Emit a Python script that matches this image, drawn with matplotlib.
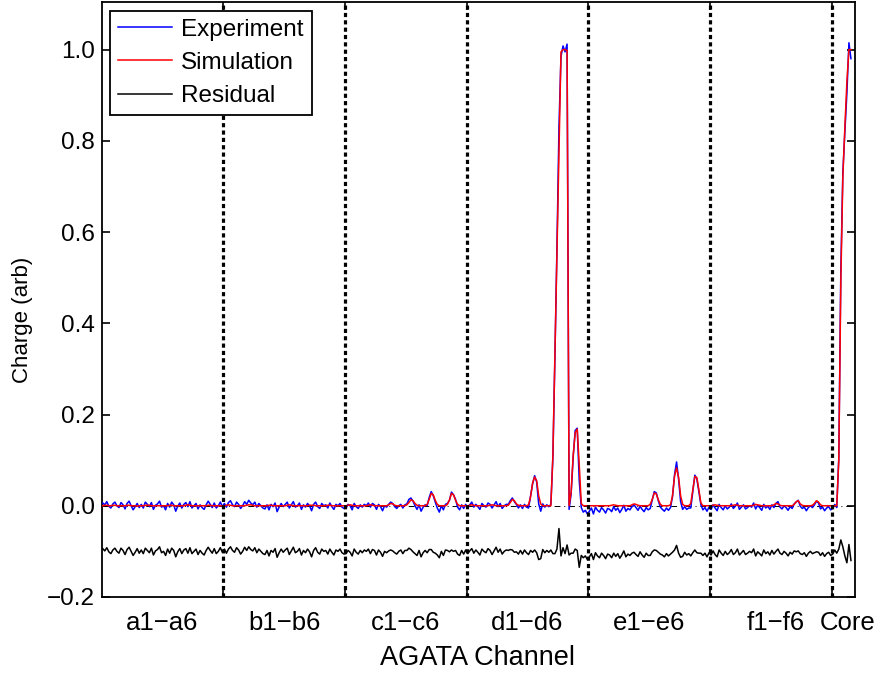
import numpy as np
import matplotlib
matplotlib.use("Agg")
import matplotlib.pyplot as plt

plt.rcParams['font.family'] = ['Liberation Sans', 'DejaVu Sans']

# AGATA "supertrace": segments a1..f6 (6 per sector) followed by the core,
# 10 samples per channel. Charges below are in units of 1e-3 (arb).
samples_per_channel = 10
group_labels = ["a1\u2212a6", "b1\u2212b6", "c1\u2212c6", "d1\u2212d6",
                "e1\u2212e6", "f1\u2212f6", "Core"]
group_label_pos = [3, 9, 15, 21, 27, 33.25, 36.8]
sector_dividers = [6, 12, 18, 24, 30, 36]
yticks = [-0.2, 0.0, 0.2, 0.4, 0.6, 0.8, 1.0]
residual_offset = -0.1

# Simulated pulse shapes
sim_a = [[0, 1, 1, 0, 0, 1, 1, 0, 0, 0],
         [0, 0, 1, 1, 0, 0, 0, -1, 0, 0],
         [0, 1, 1, 1, 0, 0, 0, 0, 0, 0],
         [0, 0, 0, 1, 1, 0, 0, 0, 0, 0],
         [0, 1, 2, 1, 0, 0, 0, 0, 0, 0],
         [0, 0, 1, 1, 0, 0, 0, 0, 0, 0]]
sim_b = [[0, 1, 2, 1, 0, 0, 0, 0, 0, 0],
         [0, 1, 2, 2, 1, 0, 0, 0, 0, 0],
         [0, 0, 1, 1, 0, 0, 0, 0, 0, 0],
         [0, 1, 2, 1, 0, 0, 0, 0, 0, 0],
         [0, 0, 1, 1, 1, 0, 0, 0, 0, 0],
         [0, 1, 1, 0, 0, 0, 0, 0, 0, 0]]
sim_c = [[0, 1, 2, 1, 0, 0, 0, 0, 0, 0],
         [0, 1, 2, 1, 0, 0, 0, 0, 0, 0],
         [0, 2, 5, 4, 1, 0, 0, 0, 0, 0],
         [2, 7, 13, 11, 5, 1, 0, 0, 0, 0],
         [3, 14, 27, 24, 12, 3, 0, 0, 0, 0],
         [3, 13, 27, 24, 12, 3, 0, 0, 0, 0]]
sim_d = [[0, 1, 2, 1, 0, 0, 0, 0, 0, 0],
         [0, 1, 2, 1, 0, 0, 0, 0, 0, 0],
         [1, 7, 14, 11, 4, 1, 0, 0, 0, 0],
         [2, 20, 50, 63, 55, 22, 4, 0, 0, 0],
         [0, 0, 110, 330, 560, 780, 995, 1000, 1000, 998],
         [0, 30, 110, 160, 168, 90, 5, 0, 0, 0]]
sim_e = [[0, 0, 0, 0, 0, 0, 0, 0, 0, 0],
         [0, 1, 2, 1, 0, 0, 0, 0, 0, 0],
         [0, 2, 4, 3, 1, 0, 0, 0, 0, 0],
         [3, 14, 28, 26, 13, 3, 0, 0, 0, 0],
         [2, 22, 65, 83, 62, 22, 3, 0, 0, 0],
         [5, 35, 64, 62, 35, 6, 0, 0, 0, 0]]
sim_f = [[0, 1, 2, 1, 0, 0, 0, 0, 0, 0],
         [0, 1, 2, 1, 0, 0, 0, 0, 0, 0],
         [0, 1, 3, 2, 1, 0, 0, 0, 0, 0],
         [0, 2, 5, 4, 1, 0, 0, 0, 0, 0],
         [0, 3, 9, 11, 4, 1, 0, 0, 0, 0],
         [1, 5, 11, 8, 2, 0, 0, 0, 0, 0]]
sim_core = [0, 0, 0, 100, 490, 720, 830, 930, 1000, 1000]

# Measured pulse shapes
exp_a = [[6, 2, 9, -1, -5, 4, 8, 0, -4, 7],
         [2, -7, 5, 10, 0, -9, -2, 5, -4, 3],
         [-5, 8, 3, -2, 7, -8, 1, 4, 10, -3],
         [0, -9, 5, -3, 8, 2, -12, -1, 6, -5],
         [3, 7, -2, 9, -5, 0, 5, -7, 2, -4],
         [-8, 2, 10, 3, -4, 6, -5, 0, 8, -2]]
exp_b = [[5, -3, 7, 11, 2, -2, 8, 3, -6, 0],
         [9, 3, 12, 6, 2, 8, -3, 5, 0, -5],
         [-7, 2, -9, 3, -2, 6, -13, -3, 5, -2],
         [3, 8, -5, 2, 9, -3, 0, 6, -8, 2],
         [-3, 5, 0, -11, 3, 8, -2, -6, 5, 0],
         [2, -5, 6, -2, -8, 3, 0, 5, -3, -6]]
exp_c = [[-5, 3, 0, -9, 5, -2, -6, 2, -3, 3],
         [0, 6, -3, 5, 2, -8, 3, -2, -11, 0],
         [-3, 3, 8, 5, -2, -6, 0, 3, -5, 2],
         [4, 14, 17, 10, 0, -8, 2, -12, -3, 2],
         [0, 18, 31, 22, 8, -5, -14, 0, -9, 3],
         [5, 12, 30, 24, 14, -3, -9, 2, -6, 3]]
exp_d = [[-5, 2, 8, -3, 3, -2, -8, 5, 0, -3],
         [6, 3, -5, 2, 9, -2, 5, -6, 0, 3],
         [3, 11, 17, 9, 3, -5, 2, -6, 3, -3],
         [-5, 22, 48, 66, 52, 4, -12, 4, -3, 2],
         [-2, 3, 105, 325, 565, 830, 985, 1008, 995, 1012],
         [-8, 26, 106, 165, 170, 55, -4, -14, -10, -18]]
exp_e = [[-12, -5, -18, -3, -10, -14, -4, -9, -16, -6],
         [-8, -13, -2, -10, -5, -15, -8, 1, -12, -6],
         [-9, -2, 2, -4, -10, -1, -8, -13, -4, -9],
         [-6, 13, 31, 28, 11, -3, -8, -12, -5, -10],
         [-4, 20, 68, 96, 58, 9, -8, -2, -8, -5],
         [-5, 32, 67, 59, 31, 2, -9, -4, -12, -3]]
exp_f = [[-8, 2, -5, -11, 3, -4, -9, 0, -7, -3],
         [4, -6, -1, 6, -8, -3, 2, -7, -4, 0],
         [-3, 6, -7, 1, -4, -10, 3, -5, -1, -8],
         [2, -4, 5, 9, -3, -7, 0, -4, -10, -2],
         [-6, 4, 8, 12, -1, -6, -3, -11, -4, 0],
         [-4, 2, 10, 6, -7, -3, -11, -5, -2, -9]]
exp_core = [-6, 3, -4, 105, 515, 730, 820, 905, 1015, 980]

# Stitch the channels together into one long trace
sim = np.array(sim_a + sim_b + sim_c + sim_d + sim_e + sim_f + [sim_core]).ravel() / 1000.
meas = np.array(exp_a + exp_b + exp_c + exp_d + exp_e + exp_f + [exp_core]).ravel() / 1000.
residual = meas - sim + residual_offset

# sample position in "channel" units
x = (np.arange(len(sim)) + 0.5) / samples_per_channel

fig = plt.figure(figsize=(8.83, 6.75), dpi=100)
ax = fig.add_axes([0.1152, 0.1156, 0.8531, 0.8819])

ax.plot(x, meas, color='blue', lw=1.1, label='Experiment', zorder=3)
ax.plot(x, sim, color='red', lw=1.1, label='Simulation', zorder=4)
ax.plot(x, residual, color='black', lw=1.1, label='Residual', zorder=4)

# zero line and sector separators
ax.axhline(0, color='black', lw=0.7, ls=(0, (6, 4, 1, 4)), zorder=2)
for d in sector_dividers:
    ax.axvline(d, color='black', lw=2.3, ls=(0, (1.3, 1.0)), zorder=5)

ax.set_xlim(0, 37.15)
ax.set_ylim(-0.2, 1.105)

ax.set_xticks(sector_dividers)
ax.set_xticklabels([])
ax.set_xticks(group_label_pos, minor=True)
ax.set_xticklabels(group_labels, minor=True)
ax.tick_params(axis='x', which='minor', length=0, pad=10, labelsize=18.5)

ax.set_yticks(yticks)
ax.set_yticklabels([("%.1f" % v).replace('-', '\u2212') for v in yticks])
ax.tick_params(which='major', direction='in', top=True, right=True,
               length=6, width=1.2, labelsize=17.5, pad=5)
for sp in ax.spines.values():
    sp.set_linewidth(1.3)

fig.text(0.541, 0.025, 'AGATA Channel', ha='center', va='center', fontsize=19.5)
fig.text(0.025, 0.526, 'Charge (arb)', ha='center', va='center',
         rotation=90, fontsize=16)

leg = ax.legend(loc='upper left', bbox_to_anchor=(0.011, 0.985),
                borderaxespad=0, fontsize=17.5, handlelength=2.2,
                handletextpad=0.4, labelspacing=0.46, borderpad=0.33,
                fancybox=False, framealpha=1)
leg.get_frame().set_edgecolor('black')
leg.get_frame().set_linewidth(1.3)

fig.savefig('out.png', dpi=100)
